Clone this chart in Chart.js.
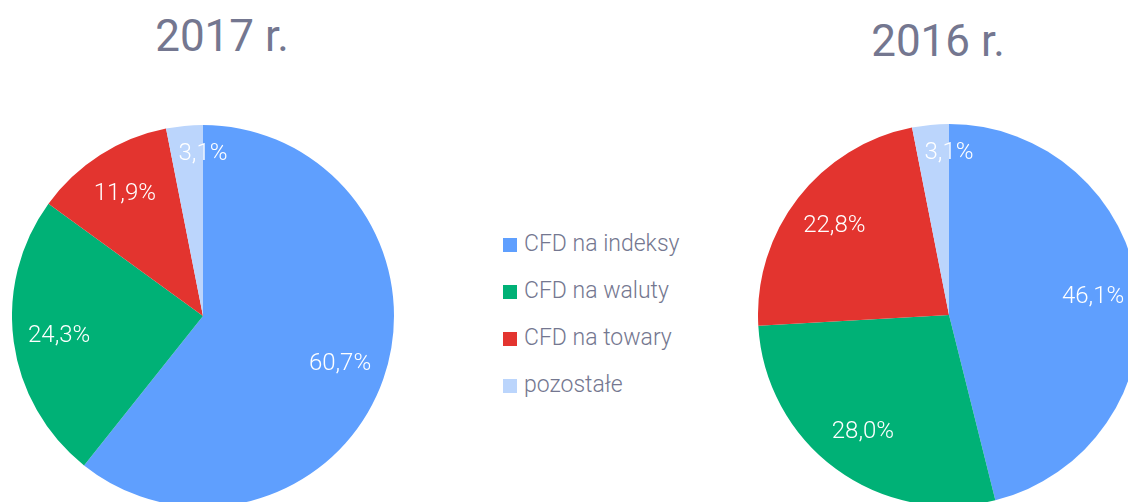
<!DOCTYPE html>
<html>
<head>
<meta charset="utf-8">
<script src="https://cdn.jsdelivr.net/npm/chart.js@4.4.1/dist/chart.umd.min.js"></script>
<style>
  html, body { margin: 0; padding: 0; background: #fff; }
  #wrap { position: relative; width: 1128px; height: 502px; overflow: hidden; font-family: Roboto, "Noto Sans", sans-serif; }
  .title { position: absolute; font-size: 44px; line-height: 44px; color: #747790; white-space: nowrap; transform: translateX(-50%); }
  canvas { position: absolute; }
  .leg { position: absolute; left: 503px; height: 26px; line-height: 26px; font-size: 23px; font-weight: 300; color: #747790; white-space: nowrap; }
  .leg span.sw { display: inline-block; width: 14px; height: 14px; vertical-align: -1px; margin-right: 7px; }
</style>
</head>
<body>
<div id="wrap">
  <div class="title" id="t1" style="left:222px; top:14px;"></div>
  <div class="title" id="t2" style="left:938px; top:19px;"></div>
  <canvas id="c1" width="382" height="382" style="left:12px; top:125px;"></canvas>
  <canvas id="c2" width="382" height="382" style="left:758px; top:124px;"></canvas>
  <div id="legend"></div>
</div>
<script>
const categories = ["CFD na indeksy", "CFD na waluty", "CFD na towary", "pozostałe"];
const colors = ["#5f9ffe", "#00b176", "#e3342f", "#bbd5fc"];
const titles = ["2017 r.", "2016 r."];
const values2017 = [60.7, 24.3, 11.9, 3.1];
const values2016 = [46.1, 28.0, 22.8, 3.1];

document.getElementById('t1').textContent = titles[0];
document.getElementById('t2').textContent = titles[1];

const legendTops = [231, 278, 325, 372];
const leg = document.getElementById('legend');
categories.forEach((c, i) => {
  const d = document.createElement('div');
  d.className = 'leg';
  d.style.top = legendTops[i] + 'px';
  const s = document.createElement('span');
  s.className = 'sw';
  s.style.background = colors[i];
  d.appendChild(s);
  d.appendChild(document.createTextNode(c));
  leg.appendChild(d);
});

const labelPlugin = {
  id: 'sliceLabels',
  afterDatasetsDraw(chart) {
    const ctx = chart.ctx;
    const meta = chart.getDatasetMeta(0);
    const data = chart.data.datasets[0].data;
    ctx.save();
    ctx.fillStyle = '#ffffff';
    ctx.font = '300 24px Roboto, "Noto Sans", sans-serif';
    ctx.textAlign = 'center';
    ctx.textBaseline = 'middle';
    meta.data.forEach((arc, i) => {
      const p = arc.getProps(['x', 'y', 'startAngle', 'endAngle', 'outerRadius'], true);
      const span = p.endAngle - p.startAngle;
      let ang, r;
      if (span < 0.35) { ang = p.endAngle; r = p.outerRadius * 0.85; }
      else { ang = (p.startAngle + p.endAngle) / 2; r = p.outerRadius * 0.76; }
      const x = p.x + Math.cos(ang) * r;
      const y = p.y + Math.sin(ang) * r;
      ctx.fillText(data[i].toFixed(1).replace('.', ',') + '%', x, y);
    });
    ctx.restore();
  }
};

function makePie(id, values) {
  return new Chart(document.getElementById(id), {
    type: 'pie',
    data: {
      labels: categories,
      datasets: [{ data: values, backgroundColor: colors, borderWidth: 0 }]
    },
    options: {
      responsive: false,
      maintainAspectRatio: false,
      animation: false,
      layout: { padding: 0 },
      plugins: { legend: { display: false }, tooltip: { enabled: false }, title: { display: false } }
    },
    plugins: [labelPlugin]
  });
}
makePie('c1', values2017);
makePie('c2', values2016);
</script>
</body>
</html>
